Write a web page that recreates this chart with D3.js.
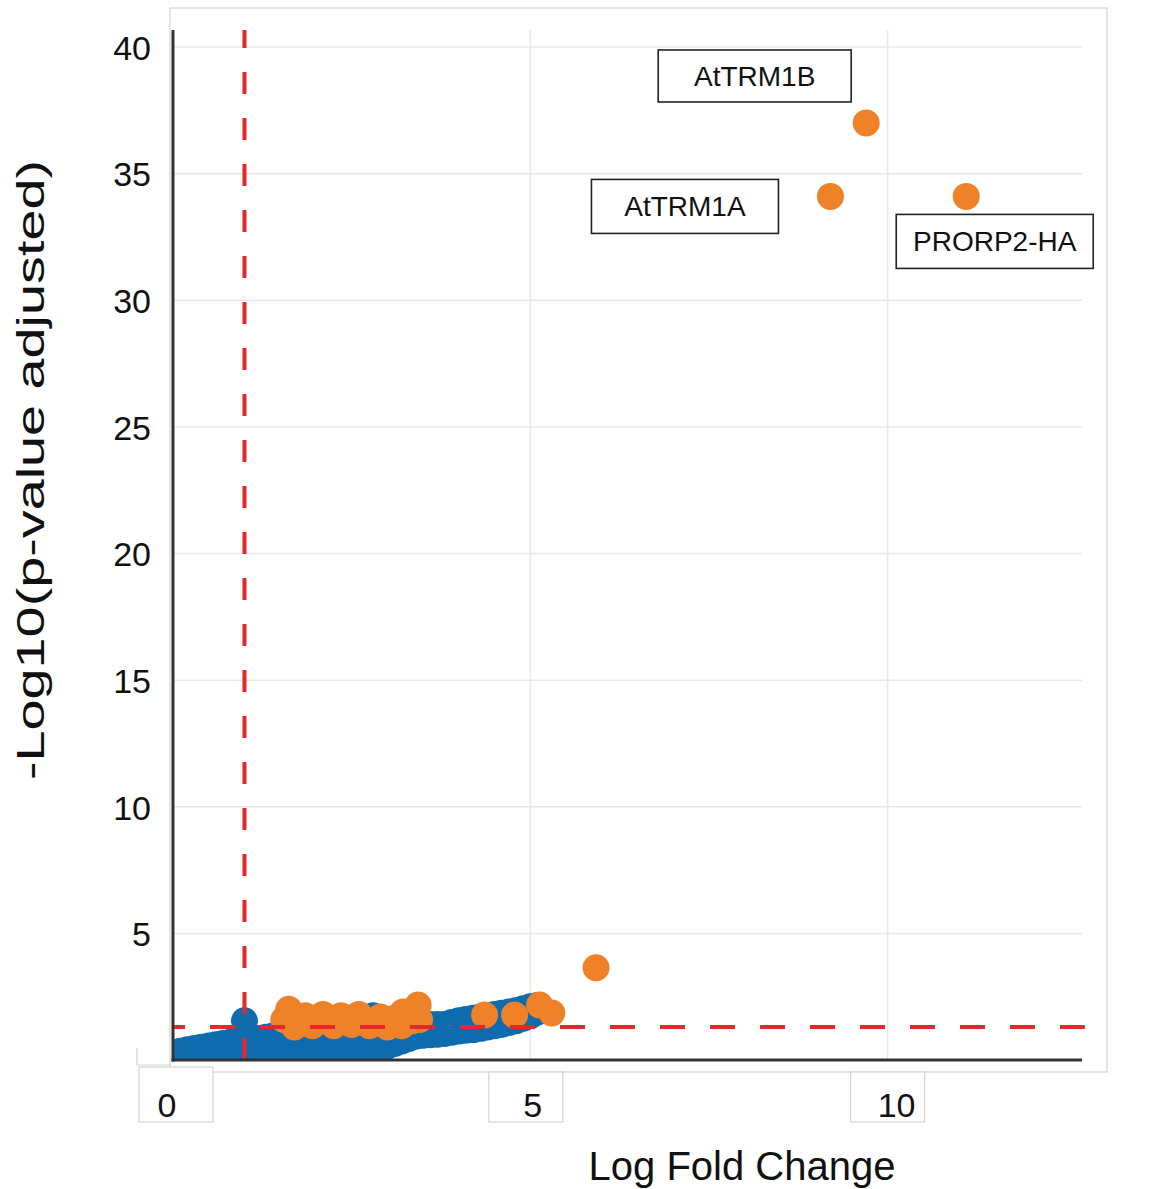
<!DOCTYPE html>
<html><head><meta charset="utf-8">
<script src="https://cdn.jsdelivr.net/npm/d3@7"></script>
<style>body{margin:0;background:#fff} svg{display:block}</style>
</head><body><svg id="c" width="1150" height="1189"></svg>
<script>
// ---------- data ----------
const yTicks = [5, 10, 15, 20, 25, 30, 35, 40];
const xTicks = [0, 5, 10];
const xGridValues = [5, 10];
const xTitle = "Log Fold Change";
const yTitle = "-Log10(p-value adjusted)";
const lfcCutoff = 1;
const padjCutoff = 1.3;

// non-significant genes (blue)
const blueLFC = [
  0.0,0.0, 0.2,0.2, 0.4,0.4, 0.6,0.6, 0.8,0.8,
  1.0,1.0,1.0, 1.2,1.2, 1.4,1.4, 1.6,1.6,
  1.8,1.8,1.8, 2.0,2.0,2.0, 2.2,2.2,2.2, 2.4,2.4,2.4, 2.6,2.6,2.6,
  2.8,2.8,2.8,2.8, 3.0,3.0,3.0, 3.2,3.2,3.2,
  3.4,3.4, 3.6,3.6, 3.8,3.8, 4.0,4.0, 4.2,4.2, 4.4,4.4, 4.6,4.6, 4.8,4.8, 5.0,5.0, 5.1,5.1,
  0.1,0.3,0.5,0.7,0.9,1.1,1.3,1.5,1.7,1.9,2.1,2.3,2.5,2.7,2.9,3.1,3.3,3.5,3.7,3.9,4.1,4.3,4.5,4.7,4.9,
  2.9,3.1,3.3,3.5,3.7,3.9,4.1,4.3,4.5,4.7,4.9
];
const bluePadj = [
  0.1,0.3, 0.1,0.4, 0.1,0.5, 0.1,0.6, 0.1,0.7,
  0.1,0.8,1.55, 0.1,0.85, 0.1,0.95, 0.1,1.0,
  0.1,0.6,1.05, 0.1,0.6,1.1, 0.1,0.6,1.2, 0.1,0.7,1.25, 0.1,0.7,1.3,
  0.2,0.8,1.35,1.75, 0.55,1.0,1.4, 0.75,1.15,1.45,
  0.95,1.45, 1.0,1.4, 1.05,1.4, 1.15,1.55, 1.2,1.65, 1.3,1.75, 1.4,1.85, 1.55,1.95, 1.75,2.1, 1.9,2.15,
  0.35,0.45,0.55,0.65,0.75,0.82,0.9,0.97,1.02,1.08,1.15,1.22,1.27,1.32,1.38,1.42,1.45,1.42,1.4,1.48,1.6,1.7,1.8,1.9,2.02,
  0.4,0.65,0.85,0.98,1.02,1.1,1.18,1.25,1.35,1.48,1.65
];

// significant genes (orange)
const orangeLFC = [
  1.62,1.55,1.7,1.85,1.95,2.1,2.25,2.35,2.5,2.6,2.75,2.9,3.0,3.1,3.2,3.22,3.35,3.43,3.45,
  4.36,4.78,5.13,5.3,5.92, 9.2,9.7,11.1
];
const orangePadj = [
  2.0,1.6,1.3,1.75,1.35,1.8,1.35,1.75,1.4,1.8,1.35,1.7,1.3,1.65,1.35,1.9,1.55,2.17,1.6,
  1.78,1.78,2.17,1.86,3.64, 34.1,37.0,34.1
];

// labelled genes
const labelNames = ["AtTRM1B", "AtTRM1A", "PRORP2-HA"];
const labelLFC = [9.7, 9.2, 11.1];
const labelPadj = [37.0, 34.1, 34.1];

// ---------- layout ----------
const svg = d3.select("#c");
const FONT = "'Liberation Sans', Arial, Helvetica, sans-serif";
const BLUE = "#0E6CAE", ORANGE = "#EF8228", RED = "#E8262B";
const R = 13.5;

const x = d3.scaleLinear().domain([0, 12.72]).range([173, 1082]);
const y = d3.scaleLinear().domain([0, 40]).range([1060, 47]);
const yTop = y(40.67);

// outer frame
svg.append("rect").attr("x", 170).attr("y", 8).attr("width", 937).attr("height", 1064)
  .attr("fill", "none").attr("stroke", "#d4d4d4").attr("stroke-width", 1.2);

// gridlines
svg.append("g").selectAll("line").data(yTicks).join("line")
  .attr("x1", x(0)).attr("x2", x(12.72))
  .attr("y1", d => y(d)).attr("y2", d => y(d))
  .attr("stroke", "#e8e8e8").attr("stroke-width", 1.5);
svg.append("g").selectAll("line").data(xGridValues).join("line")
  .attr("x1", d => x(d)).attr("x2", d => x(d))
  .attr("y1", yTop).attr("y2", y(0))
  .attr("stroke", "#e8e8e8").attr("stroke-width", 1.5);

// clip for points
svg.append("defs").append("clipPath").attr("id", "plotclip")
  .append("rect").attr("x", x(0)).attr("y", 0).attr("width", x(12.72) - x(0) + 40).attr("height", y(0));

const blue = blueLFC.map((v, i) => ({ x: v, y: bluePadj[i] }));
const orange = orangeLFC.map((v, i) => ({ x: v, y: orangePadj[i] }));

const pts = svg.append("g").attr("clip-path", "url(#plotclip)");
pts.append("g").selectAll("circle").data(blue).join("circle")
  .attr("cx", d => x(d.x)).attr("cy", d => y(d.y)).attr("r", R).attr("fill", BLUE);
pts.append("g").selectAll("circle").data(orange).join("circle")
  .attr("cx", d => x(d.x)).attr("cy", d => y(d.y)).attr("r", R).attr("fill", ORANGE);

// cutoff lines
svg.append("line")
  .attr("x1", x(lfcCutoff)).attr("x2", x(lfcCutoff))
  .attr("y1", y(0)).attr("y2", yTop)
  .attr("stroke", RED).attr("stroke-width", 4).attr("stroke-dasharray", "22,24");
svg.append("line")
  .attr("x1", x(0)).attr("x2", x(12.76))
  .attr("y1", y(padjCutoff)).attr("y2", y(padjCutoff))
  .attr("stroke", RED).attr("stroke-width", 4).attr("stroke-dasharray", "25,25")
  .attr("stroke-dashoffset", 13);

// axes
const yAxis = d3.axisLeft(y).tickValues(yTicks).tickSize(0).tickPadding(22);
const gy = svg.append("g").attr("transform", `translate(${x(0)},0)`).call(yAxis);
gy.select(".domain").remove();
gy.selectAll("text").attr("font-family", FONT).attr("font-size", 34).attr("fill", "#111")
  .attr("dy", "0.36em");

svg.append("line").attr("x1", x(0)).attr("x2", x(0)).attr("y1", yTop).attr("y2", y(0) + 1.5)
  .attr("stroke", "#333").attr("stroke-width", 3);
svg.append("line").attr("x1", x(0) - 1.5).attr("x2", x(12.72)).attr("y1", y(0)).attr("y2", y(0))
  .attr("stroke", "#333").attr("stroke-width", 3);

// x tick labels in boxes
const xBoxLeft = [-34, -41.5, -37];
const xBoxTop = [1067, 1072, 1072];
const xTextShift = [-6, 2.5, 9];
svg.append("polyline").attr("points", "137,1048 137,1065 171,1065")
  .attr("fill", "none").attr("stroke", "#d4d4d4").attr("stroke-width", 1.2);
const gx = svg.append("g");
xTicks.forEach((t, i) => {
  gx.append("rect").attr("x", x(t) + xBoxLeft[i]).attr("y", xBoxTop[i])
    .attr("width", 74).attr("height", 1122 - xBoxTop[i])
    .attr("fill", "#fff").attr("stroke", "#d4d4d4").attr("stroke-width", 1.2);
  gx.append("text").attr("x", x(t) + xTextShift[i]).attr("y", 1117)
    .attr("text-anchor", "middle").attr("font-family", FONT).attr("font-size", 34)
    .attr("fill", "#111").text(d3.format("d")(t));
});

// titles
svg.append("text").attr("x", 742).attr("y", 1180).attr("text-anchor", "middle")
  .attr("font-family", FONT).attr("font-size", 40).attr("fill", "#111").text(xTitle);
svg.append("text").attr("transform", "translate(44,470) rotate(-90)")
  .attr("text-anchor", "middle").attr("font-family", FONT).attr("font-size", 38)
  .attr("textLength", 620).attr("lengthAdjust", "spacingAndGlyphs")
  .attr("fill", "#111").text(yTitle);

// gene labels
const labelDX = [-111.5, -145.5, 28.5];
const labelDY = [-47, 10, 45];
const labelW = [193, 187, 197];
const labelH = [52, 54, 54];
const gl = svg.append("g");
labelNames.forEach((n, i) => {
  const cx = x(labelLFC[i]) + labelDX[i], cy = y(labelPadj[i]) + labelDY[i];
  gl.append("rect").attr("x", cx - labelW[i] / 2).attr("y", cy - labelH[i] / 2)
    .attr("width", labelW[i]).attr("height", labelH[i])
    .attr("fill", "#fff").attr("stroke", "#222").attr("stroke-width", 1.6);
  gl.append("text").attr("x", cx).attr("y", cy + 10).attr("text-anchor", "middle")
    .attr("font-family", FONT).attr("font-size", 28).attr("fill", "#111").text(n);
});
</script>
</body></html>
